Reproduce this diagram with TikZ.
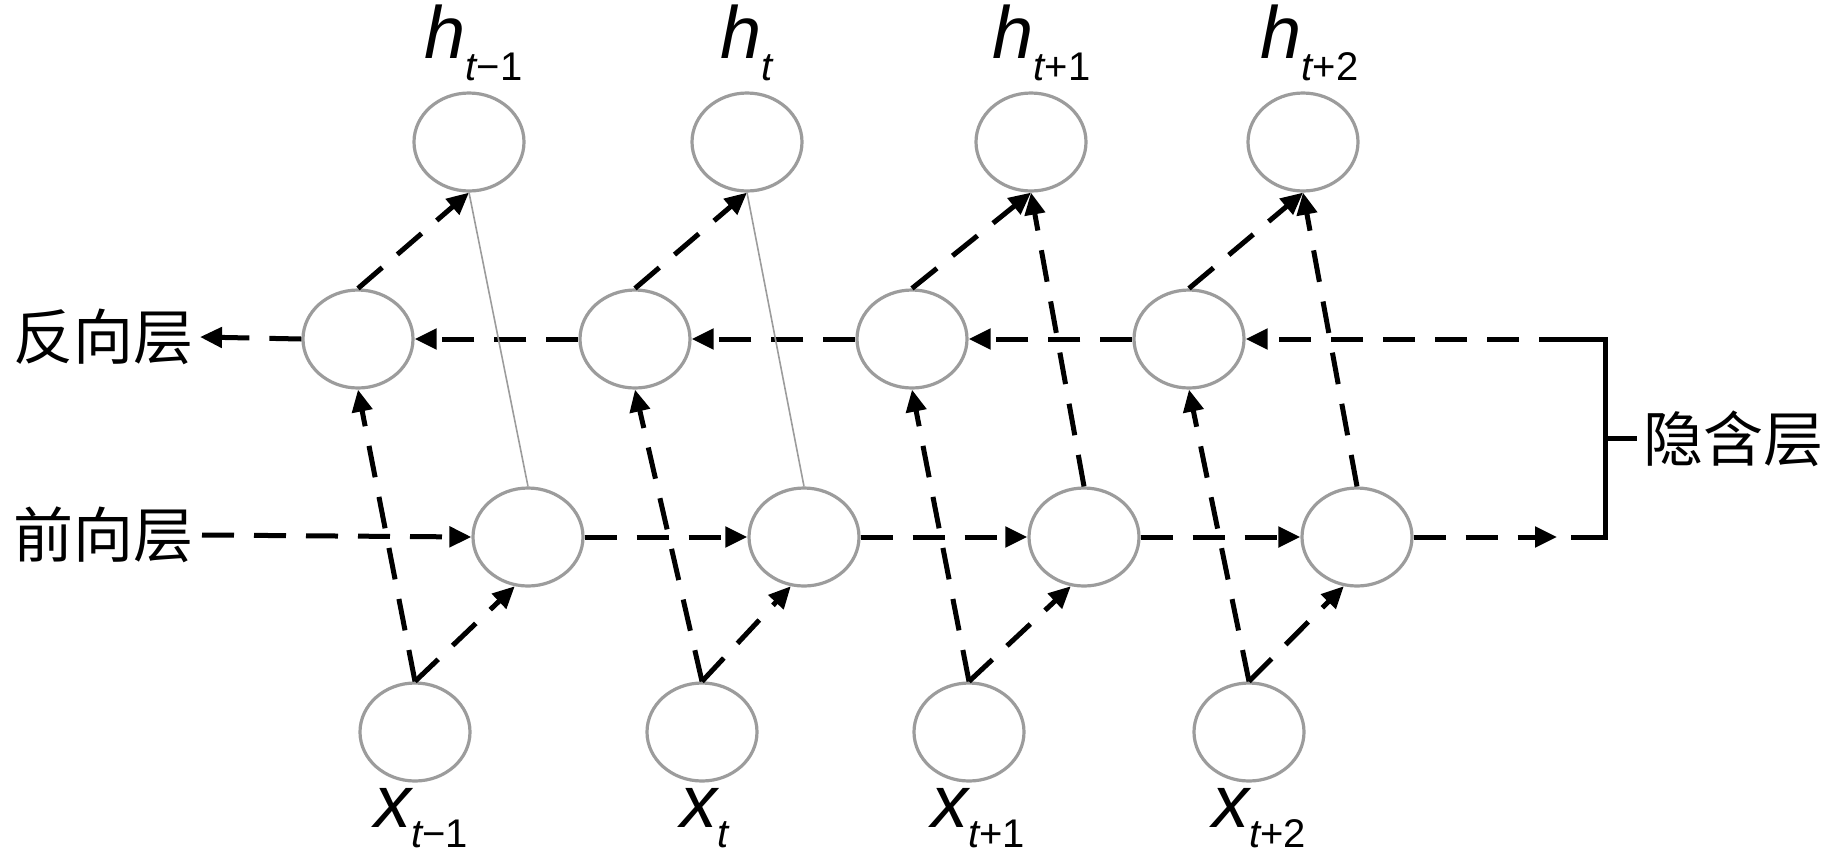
\documentclass[tikz,border=0pt]{standalone}
\usepackage{fontspec}
\setmainfont{Liberation Sans}
\newfontfamily\lblfont{Liberation Sans}
\newfontfamily\cjk{Noto Sans CJK SC}
\usetikzlibrary{shapes.geometric,arrows.meta}
\definecolor{cgray}{HTML}{9C9C9C}
\newcommand\hsub[3]{{\lblfont\fontsize{37}{39}\selectfont\itshape #1\raisebox{#3}{\fontsize{20}{21}\selectfont\itshape t\upshape #2}}}
\begin{document}
\begin{tikzpicture}[x=0.5pt,y=-0.5pt,
  cell/.style={ellipse,draw=cgray,fill=white,line width=1.6pt,minimum width=55pt,minimum height=49pt,inner sep=0pt},
  darr/.style={line width=2.5pt,dash pattern=on 16pt off 10pt,-{Triangle[length=11pt,width=10pt]}},
  thinl/.style={line width=0.8pt,draw=cgray},
  brk/.style={line width=2.5pt},
  lbl/.style={inner sep=0pt},
  cn/.style={font=\cjk\fontsize{30}{32}\selectfont,inner sep=0pt},
]
\useasboundingbox (0,0) rectangle (1827,858);
% cells
\foreach \i/\xt/\xb/\xf/\xx in {1/469/358/528/415, 2/747/635/804/702, 3/1031/912/1084/969, 4/1303/1189/1357/1249}{
  \node[cell] (t\i) at (\xt,142) {};
  \node[cell] (b\i) at (\xb,339) {};
  \node[cell] (f\i) at (\xf,537) {};
  \node[cell] (x\i) at (\xx,732) {};
}
% labels
\node[lbl,anchor=base west] (lh1) at (424,58) {\hsub{h}{−1}{-11pt}};
\node[lbl,anchor=base west] (lh2) at (720,58) {\hsub{h}{}{-11pt}};
\node[lbl,anchor=base west] (lh3) at (992,58) {\hsub{h}{+1}{-11pt}};
\node[lbl,anchor=base west] (lh4) at (1260,58) {\hsub{h}{+2}{-11pt}};
\node[lbl,anchor=base west] (lx1) at (374,827) {\hsub{x}{−1}{-10pt}};
\node[lbl,anchor=base west] (lx2) at (680,827) {\hsub{x}{}{-10pt}};
\node[lbl,anchor=base west] (lx3) at (931,827) {\hsub{x}{+1}{-10pt}};
\node[lbl,anchor=base west] (lx4) at (1212,827) {\hsub{x}{+2}{-10pt}};
\node[cn,anchor=east] (back) at (194,337) {反向层};
\node[cn,anchor=east] (fwd) at (194,535) {前向层};
\node[cn,anchor=west] (hid) at (1643,439) {隐含层};
% bracket
\coordinate (bt) at (1571,339);
\coordinate (bb) at (1571,537);
\coordinate (fe) at (1557,537);
\coordinate (bm) at (1605,438);
\coordinate (bmr) at (1637,438);
\draw[brk] (bt) -- (1605,339) -- (1605,537) -- (bb);
\draw[brk] (bm) -- (bmr);
% backward chain
\draw[darr] (bt) -- (b4.east);
\draw[darr] (b4.west) -- (b3.east);
\draw[darr] (b3.west) -- (b2.east);
\draw[darr] (b2.west) -- (b1.east);
\draw[darr] (b1.west) -- ([xshift=3pt]back.east);
% forward chain
\draw[darr] ([xshift=4pt]fwd.east) -- (f1.west);
\draw[darr] (f1.east) -- (f2.west);
\draw[darr] (f2.east) -- (f3.west);
\draw[darr] (f3.east) -- (f4.west);
\draw[darr] (f4.east) -- (fe);
% vertical connections
\foreach \i in {1,2,3,4}{
  \draw[darr] (x\i.north) -- (b\i.south);
  \draw[darr] (x\i.north) -- (f\i.-105);
  \draw[darr] (b\i.north) -- (t\i.south);
}
\draw[thinl] (f1.north) -- (t1.south);
\draw[thinl] (f2.north) -- (t2.south);
\draw[darr] (f3.north) -- (t3.south);
\draw[darr] (f4.north) -- (t4.south);
\end{tikzpicture}
\end{document}
